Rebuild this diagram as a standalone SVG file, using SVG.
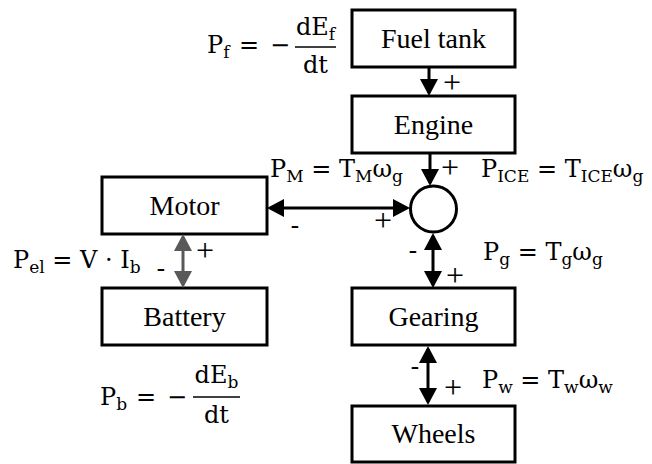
<svg xmlns="http://www.w3.org/2000/svg" width="652" height="464" viewBox="0 0 652 464">
<style>
.box{fill:#fff;stroke:#000;stroke-width:3}
.lbl{font-family:"Liberation Serif","Times New Roman","DejaVu Serif",serif;font-size:28px;fill:#000;text-anchor:middle}
.m{font-family:"DejaVu Serif","Liberation Serif",serif;font-size:24px;fill:#000}
.s{font-size:17px}
.sg{font-family:"Liberation Serif","Times New Roman","DejaVu Serif",serif;font-size:32px;fill:#000;text-anchor:middle}
.mn{font-size:25px}
.ln{stroke:#000;stroke-width:3;fill:none}
.lg{stroke:#595959;stroke-width:3;fill:none}
</style>
<defs>
<marker id="ah" viewBox="0 0 17 18" refX="14" refY="9" markerWidth="17" markerHeight="18" markerUnits="userSpaceOnUse" orient="auto-start-reverse"><path d="M0,0 L17,9 L0,18 z" fill="#000"/></marker>
<marker id="ahg" viewBox="0 0 17 18" refX="14" refY="9" markerWidth="17" markerHeight="18" markerUnits="userSpaceOnUse" orient="auto-start-reverse"><path d="M0,0 L17,9 L0,18 z" fill="#595959"/></marker>
</defs>

<g id="fueltank"><rect class="box" x="352" y="10" width="163" height="57"/><text class="lbl" x="433.5" y="48">Fuel tank</text></g>
<g id="engine"><rect class="box" x="352" y="96" width="163" height="57"/><text class="lbl" x="433.5" y="134">Engine</text></g>
<g id="junction"><circle cx="433.5" cy="209" r="23" fill="#fff" stroke="#000" stroke-width="3"/></g>
<g id="motor"><rect class="box" x="102" y="177" width="165" height="57"/><text class="lbl" x="184.5" y="215">Motor</text></g>
<g id="battery"><rect class="box" x="102" y="288" width="165" height="57"/><text class="lbl" x="184.5" y="326">Battery</text></g>
<g id="gearing"><rect class="box" x="352" y="288" width="163" height="57"/><text class="lbl" x="433.5" y="326">Gearing</text></g>
<g id="wheels"><rect class="box" x="352" y="406" width="163" height="56"/><text class="lbl" x="433.5" y="443">Wheels</text></g>

<g id="connectors">
<line class="ln" x1="429" y1="68" x2="429" y2="93" marker-end="url(#ah)"/>
<line class="ln" x1="430" y1="154" x2="430" y2="183" marker-end="url(#ah)"/>
<line class="ln" x1="270" y1="208" x2="407" y2="208" marker-start="url(#ah)" marker-end="url(#ah)"/>
<line class="lg" x1="183" y1="237" x2="183" y2="285" marker-start="url(#ahg)" marker-end="url(#ahg)"/>
<line class="ln" x1="433" y1="236" x2="433" y2="285" marker-start="url(#ah)" marker-end="url(#ah)"/>
<line class="ln" x1="428" y1="349" x2="428" y2="402" marker-start="url(#ah)" marker-end="url(#ah)"/>
</g>

<g id="signs">
<text class="sg" x="452" y="93">+</text>
<text class="sg" x="450" y="178">+</text>
<text class="sg mn" x="295" y="233">-</text>
<text class="sg" x="383" y="231">+</text>
<text class="sg" x="205" y="261">+</text>
<text class="sg mn" x="161" y="276">-</text>
<text class="sg mn" x="413" y="258">-</text>
<text class="sg" x="455" y="286">+</text>
<text class="sg mn" x="415" y="374">-</text>
<text class="sg" x="453" y="398">+</text>
</g>

<g id="formulas">
<text class="m" x="207" y="53">P<tspan class="s" dy="5">f</tspan><tspan dy="-5" x="239">=</tspan><tspan x="270">−</tspan></text>
<line x1="295" y1="47" x2="336" y2="47" stroke="#000" stroke-width="1.5"/>
<text class="m" x="315.5" y="35" text-anchor="middle">dE<tspan class="s" dy="5">f</tspan></text>
<text class="m" x="315.5" y="73" text-anchor="middle">dt</text>

<text class="m" x="100" y="405">P<tspan class="s" dy="5">b</tspan><tspan dy="-5" x="136">=</tspan><tspan x="167">−</tspan></text>
<line x1="193" y1="397" x2="240" y2="397" stroke="#000" stroke-width="1.5"/>
<text class="m" x="216.5" y="383" text-anchor="middle">dE<tspan class="s" dy="5">b</tspan></text>
<text class="m" x="216.5" y="423" text-anchor="middle">dt</text>

<text class="m" x="270" y="177">P<tspan class="s" dy="5">M</tspan><tspan dy="-5"> = T</tspan><tspan class="s" dy="5">M</tspan><tspan dy="-5">ω</tspan><tspan class="s" dy="5">g</tspan></text>
<text class="m" x="481" y="177">P<tspan class="s" dy="5">ICE</tspan><tspan dy="-5"> = T</tspan><tspan class="s" dy="5">ICE</tspan><tspan dy="-5">ω</tspan><tspan class="s" dy="5">g</tspan></text>
<text class="m" x="483" y="260">P<tspan class="s" dy="5">g</tspan><tspan dy="-5"> = T</tspan><tspan class="s" dy="5">g</tspan><tspan dy="-5">ω</tspan><tspan class="s" dy="5">g</tspan></text>
<text class="m" x="482" y="388">P<tspan class="s" dy="5">w</tspan><tspan dy="-5"> = T</tspan><tspan class="s" dy="5">w</tspan><tspan dy="-5">ω</tspan><tspan class="s" dy="5">w</tspan></text>
<text class="m" x="13" y="268">P<tspan class="s" dy="5">el</tspan><tspan dy="-5"> = V · I</tspan><tspan class="s" dy="5">b</tspan></text>
</g>
</svg>
